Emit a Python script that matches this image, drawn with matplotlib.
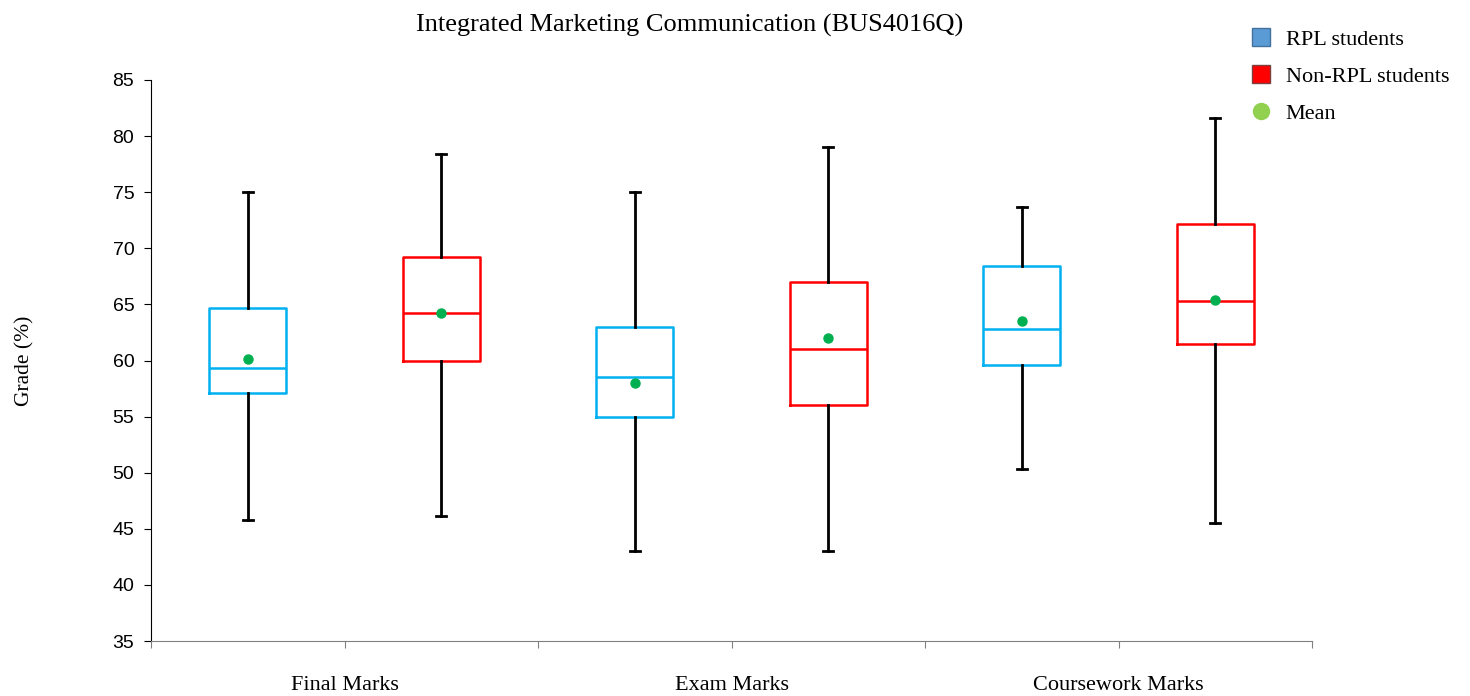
import matplotlib
matplotlib.use("Agg")
import matplotlib.pyplot as plt
from matplotlib.lines import Line2D

categories = ["Final Marks", "Exam Marks", "Coursework Marks"]
series_names = ["RPL students", "Non-RPL students", "Mean"]

rpl_whislo = [45.8, 43.0, 50.3]
rpl_q1 = [57.1, 55.0, 59.6]
rpl_med = [59.3, 58.5, 62.8]
rpl_q3 = [64.7, 63.0, 68.4]
rpl_whishi = [75.0, 75.0, 73.7]
rpl_mean = [60.1, 58.0, 63.5]

non_whislo = [46.1, 43.0, 45.5]
non_q1 = [60.0, 56.0, 61.5]
non_med = [64.2, 61.0, 65.3]
non_q3 = [69.2, 67.0, 72.2]
non_whishi = [78.4, 79.0, 81.6]
non_mean = [64.2, 62.0, 65.4]

yticks = [35, 40, 45, 50, 55, 60, 65, 70, 75, 80, 85]

plt.rcParams['font.family'] = ['DejaVu Sans']
serif = ['Liberation Serif', 'DejaVu Serif']

fig = plt.figure(figsize=(14.7, 6.96), dpi=100)
ax = fig.add_axes([151/1470, 1-641/696, (1312-151)/1470, (641-80)/696])

def stats(lo, q1, med, q3, hi, mean):
    return [dict(whislo=a, q1=b, med=c, q3=d, whishi=e, mean=f, fliers=[])
            for a, b, c, d, e, f in zip(lo, q1, med, q3, hi, mean)]

rpl_stats = stats(rpl_whislo, rpl_q1, rpl_med, rpl_q3, rpl_whishi, rpl_mean)
non_stats = stats(non_whislo, non_q1, non_med, non_q3, non_whishi, non_mean)

n = len(categories)
rpl_pos = [2*i + 0.5 for i in range(n)]
non_pos = [2*i + 1.5 for i in range(n)]

common = dict(widths=0.4, showmeans=True, showfliers=False,
              whiskerprops=dict(color='black', lw=2.0),
              capprops=dict(color='black', lw=2.0),
              meanprops=dict(marker='o', markerfacecolor='#00B050',
                             markeredgecolor='#00B050', markersize=6.5))
ax.bxp(rpl_stats, positions=rpl_pos, capwidths=0.05,
       boxprops=dict(color='#00B0F0', lw=1.8),
       medianprops=dict(color='#00B0F0', lw=1.8), **common)
ax.bxp(non_stats, positions=non_pos, capwidths=0.05,
       boxprops=dict(color='#FF0000', lw=1.8),
       medianprops=dict(color='#FF0000', lw=1.8), **common)

ax.set_xlim(0, 2*n)
ax.set_ylim(35, 85)
ax.set_yticks(yticks)
ax.set_yticklabels([str(v) for v in yticks], fontsize=14,
                   family=['Liberation Sans', 'DejaVu Sans'])
ax.set_xticks(range(0, 2*n + 1))
labels = [""] * (2*n + 1)
for i, c in enumerate(categories):
    labels[2*i + 1] = c
ax.set_xticklabels(labels, fontsize=16, family=serif)
ax.tick_params(axis='x', length=5, color='#808080', pad=20)
ax.tick_params(axis='y', length=5, color='black', pad=7)

for s in ['top', 'right']:
    ax.spines[s].set_visible(False)
ax.spines['bottom'].set_color('#808080')
ax.spines['left'].set_color('black')

ax.set_ylabel("Grade (%)", fontsize=15.5, family=serif, labelpad=56)

fig.text(690/1470, 1-25/696, "Integrated Marketing Communication (BUS4016Q)",
         ha='center', va='center', fontsize=19, family=serif)

handles = [
    Line2D([], [], ls='none', marker='s', markersize=12.5,
           markerfacecolor='#5B9BD5', markeredgecolor='#41719C'),
    Line2D([], [], ls='none', marker='s', markersize=12.5,
           markerfacecolor='#FF0000', markeredgecolor='#7F3F3F'),
    Line2D([], [], ls='none', marker='o', markersize=11.5,
           markerfacecolor='#92D050', markeredgecolor='#92D050'),
]
fig.legend(handles, series_names, loc='upper left',
           bbox_to_anchor=(1228/1470, 1-9/696), frameon=False,
           prop=dict(family=serif, size=16), handletextpad=0.5,
           labelspacing=0.75, handlelength=1.2)

fig.savefig("out.png", dpi=100)
